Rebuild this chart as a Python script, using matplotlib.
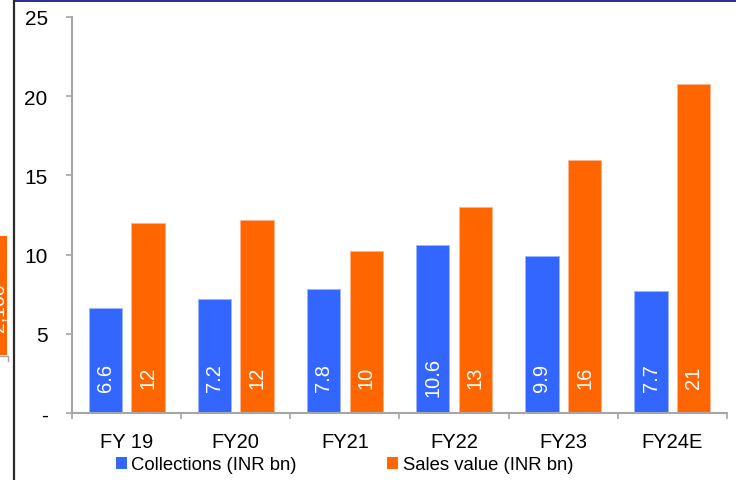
import matplotlib
matplotlib.use("Agg")
import matplotlib.pyplot as plt
from matplotlib.patches import Patch, Rectangle
from matplotlib.lines import Line2D
import numpy as np

plt.rcParams['font.family'] = ['Liberation Sans', 'DejaVu Sans']

categories = ["FY 19", "FY20", "FY21", "FY22", "FY23", "FY24E"]
collections = [6.6, 7.2, 7.8, 10.6, 9.9, 7.7]
sales_value = [12.0, 12.2, 10.2, 13.0, 16.0, 20.8]
collections_labels = ["6.6", "7.2", "7.8", "10.6", "9.9", "7.7"]
sales_labels = [f"{v:.0f}" for v in sales_value]
y_ticks = [0, 5, 10, 15, 20, 25]
y_tick_labels = ["-", "5", "10", "15", "20", "25"]

BLUE = "#3366FF"
ORANGE = "#FF6600"
GREY = "#A6A6A6"

W, H = 736, 481
fig = plt.figure(figsize=(W / 100, H / 100), dpi=100)

def fx(px):
    return px / W

def fy(py):
    return 1 - py / H

ax = fig.add_axes([fx(72), fy(414), fx(727) - fx(72), fy(18) - fy(414)])

x = np.arange(len(categories))
bw = 0.305
off = 0.196
ax.bar(x - off, collections, bw, color=BLUE, edgecolor="#9DB4FF", linewidth=0.6)
ax.bar(x + off, sales_value, bw, color=ORANGE, edgecolor="#FFB38A", linewidth=0.6)

for xi, lab in zip(x, collections_labels):
    ax.text(xi - off, 2.3, lab, rotation=90, ha="center", va="center",
            color="white", fontsize=14.5)
for xi, lab in zip(x, sales_labels):
    ax.text(xi + off, 2.3, lab, rotation=90, ha="center", va="center",
            color="white", fontsize=14.5)

ax.set_xlim(-0.5, len(categories) - 0.5)
ax.set_ylim(0, 25)
ax.set_yticks(y_ticks)
ax.set_yticklabels(y_tick_labels)
ax.set_xticks(x)
ax.set_xticklabels(categories)
ax.set_xticks(np.arange(len(categories) + 1) - 0.5, minor=True)

for s in ["top", "right"]:
    ax.spines[s].set_visible(False)
for s in ["left", "bottom"]:
    ax.spines[s].set_color(GREY)
    ax.spines[s].set_linewidth(1.5)

ax.tick_params(axis="y", length=4.5, width=1.2, color=GREY, pad=13, labelsize=15)
ax.tick_params(axis="x", which="major", length=0, pad=14, labelsize=14.5)
ax.tick_params(axis="x", which="minor", length=4.5, width=1.2, color=GREY)

handles = [Patch(facecolor=BLUE, label="Collections (INR bn)"),
           Patch(facecolor=ORANGE, label="Sales value (INR bn)")]
fig.legend(handles=handles, loc="center left", bbox_to_anchor=(fx(116), fy(466)),
           ncol=2, frameon=False, fontsize=13.3, handlelength=0.58, handleheight=0.58,
           handletextpad=0.25, columnspacing=4.9, borderpad=0, borderaxespad=0)

# page furniture around the chart
fig.add_artist(Rectangle((fx(15), fy(3)), 1 - fx(15), fy(0) - fy(3),
                         transform=fig.transFigure, facecolor="#2E3192", edgecolor="none"))
fig.add_artist(Line2D([fx(14), fx(14)], [0, 1], transform=fig.transFigure,
                      color="#2B2B2B", linewidth=1.6))
box = Rectangle((0, fy(356)), fx(7), fy(237) - fy(356), transform=fig.transFigure,
                facecolor=ORANGE, edgecolor="none")
fig.add_artist(box)
t = fig.text(fx(-1), fy(308), "2,100", rotation=90, ha="center", va="center",
             color="white", fontsize=14)
t.set_clip_path(box)
fig.add_artist(Line2D([0, fx(8), fx(8)], [fy(357), fy(357), fy(362)],
                      transform=fig.transFigure, color=GREY, linewidth=1.0))

fig.savefig("out.png", dpi=100)
